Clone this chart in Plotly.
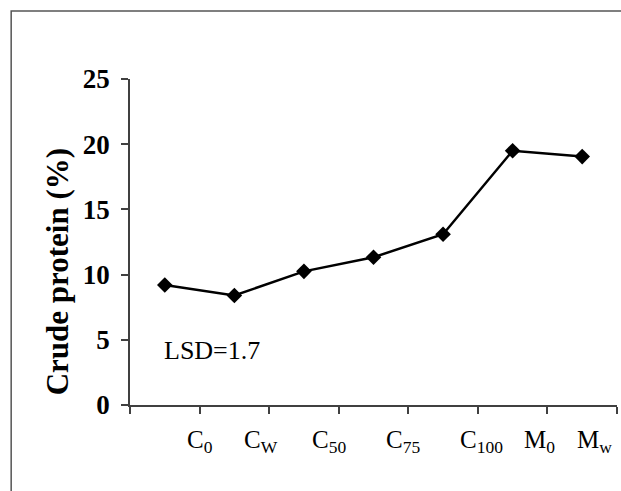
import plotly.graph_objects as go

categories = ["C<sub>0</sub>", "C<sub>W</sub>", "C<sub>50</sub>", "C<sub>75</sub>",
              "C<sub>100</sub>", "M<sub>0</sub>", "M<sub>w</sub>"]
crude_protein = [9.2, 8.4, 10.25, 11.33, 13.1, 19.5, 19.05]
point_x = [0.5, 1.5, 2.5, 3.5, 4.5, 5.5, 6.5]
boundary_ticks = [0, 1, 2, 3, 4, 5, 6, 7]
label_x = [1.01, 1.89, 2.86, 3.93, 5.05, 5.88, 6.67]
y_ticks = [0, 5, 10, 15, 20, 25]

SERIF = "Liberation Serif, Times New Roman, serif"
AXC = "#404040"

fig = go.Figure()
fig.add_trace(go.Scatter(
    x=point_x, y=crude_protein, mode="lines+markers",
    line=dict(color="black", width=2.5),
    marker=dict(symbol="diamond", size=12, color="black"),
    showlegend=False, hoverinfo="skip"))

fig.update_layout(
    width=621, height=491,
    margin=dict(l=130, r=4, t=79, b=86),
    paper_bgcolor="white", plot_bgcolor="white",
    xaxis=dict(range=[0, 7], tickvals=boundary_ticks, showticklabels=False,
               ticks="outside", ticklen=7, tickcolor=AXC, tickwidth=1.5,
               showline=True, linecolor=AXC, linewidth=1.5,
               showgrid=False, zeroline=False),
    yaxis=dict(range=[0, 25], tickvals=y_ticks, ticks="outside", ticklen=7,
               tickcolor=AXC, tickwidth=1.5, showline=True, linecolor=AXC,
               linewidth=1.5, showgrid=False, zeroline=False,
               ticklabelstandoff=6,
               tickfont=dict(family=SERIF, size=27, color="black", weight="bold")),
)

for lx, lab in zip(label_x, categories):
    fig.add_annotation(x=lx, y=-0.113, xref="x", yref="paper", text=lab,
                       showarrow=False, xanchor="center", yanchor="middle",
                       font=dict(family=SERIF, size=25, color="black"))

fig.add_annotation(x=-0.15, y=0.41, xref="paper", yref="paper",
                   text="<b>Crude protein (%)</b>", textangle=-90,
                   showarrow=False, xanchor="center", yanchor="middle",
                   font=dict(family=SERIF, size=31, color="black"))

fig.add_annotation(x=0.46, y=4.2, xref="x", yref="y", text="LSD=1.7",
                   showarrow=False, xanchor="left", yanchor="middle",
                   font=dict(family=SERIF, size=26, color="black"))

fig.add_shape(type="rect", xref="paper", yref="paper",
              x0=-0.244, x1=1.2, y0=-0.6, y1=1.2086,
              line=dict(color="#555555", width=1.5))

fig.write_html("out.html")
